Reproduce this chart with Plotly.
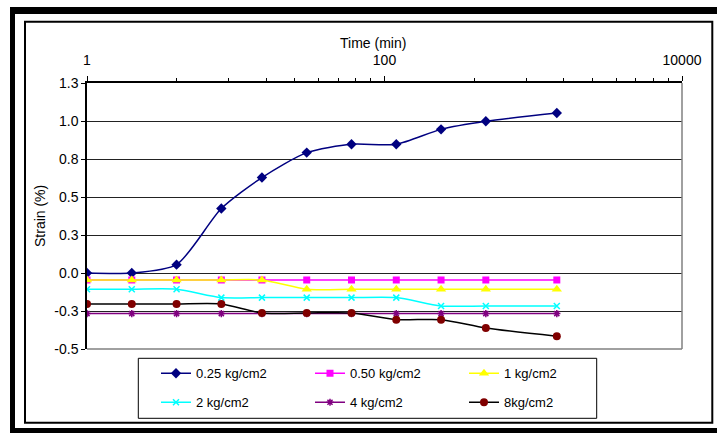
import plotly.graph_objects as go

# ---- data ----
time_min = [1, 2, 4, 8, 15, 30, 60, 120, 240, 480, 1440]
strain_025 = [0.0, 0.0, 0.055, 0.424, 0.628, 0.792, 0.847, 0.847, 0.945, 0.998, 1.053]
strain_050 = [-0.046, -0.046, -0.046, -0.046, -0.046, -0.046, -0.046, -0.046, -0.046, -0.046, -0.046]
strain_1 = [-0.046, -0.046, -0.046, -0.046, -0.046, -0.107, -0.107, -0.107, -0.107, -0.107, -0.107]
strain_2 = [-0.107, -0.107, -0.107, -0.162, -0.162, -0.162, -0.162, -0.162, -0.217, -0.217, -0.217]
strain_4 = [-0.267, -0.267, -0.267, -0.267, -0.267, -0.267, -0.267, -0.267, -0.267, -0.267, -0.267]
strain_8 = [-0.204, -0.204, -0.204, -0.204, -0.263, -0.263, -0.263, -0.307, -0.307, -0.362, -0.416]

series_names = ["0.25 kg/cm2", "0.50 kg/cm2", "1 kg/cm2", "2 kg/cm2", "4 kg/cm2", "8kg/cm2"]

x_tickvals = [1, 100, 10000]
x_ticktext = ["1", "100", "10000"]
y_tickvals = [-0.5, -0.25, 0.0, 0.25, 0.5, 0.75, 1.0, 1.25]
y_ticktext = ["-0.5", "-0.3", "0.0", "0.3", "0.5", "0.8", "1.0", "1.3"]

FONT = "Liberation Sans, Arial, sans-serif"
W, H = 717, 433
ML, MR, MT, MB = 87, 35, 83, 84
PW, PH = W - ML - MR, H - MT - MB


def px(x):
    return (x - ML) / PW


def py(y):
    return (H - MB - y) / PH


styles = [
    dict(color="#000080", lcolor="#000080", symbol="diamond", size=8, mline=None),
    dict(color="#FF00FF", lcolor="#FF00FF", symbol="square", size=7, mline=None),
    dict(color="#FFFF00", lcolor="#FFFF00", symbol="triangle-up", size=9, mline=None),
    dict(color="#00FFFF", lcolor="#00FFFF", symbol="x-thin", size=6, mline=dict(color="#00FFFF", width=1.5)),
    dict(color="#800080", lcolor="#800080", symbol="asterisk", size=6, mline=dict(color="#800080", width=1.5)),
    dict(color="#800000", lcolor="#000000", symbol="circle", size=8, mline=None),
]
values = [strain_025, strain_050, strain_1, strain_2, strain_4, strain_8]
legends = ["legend", "legend", "legend", "legend2", "legend2", "legend2"]

fig = go.Figure()
for name, vals, st, lg in zip(series_names, values, styles, legends):
    marker = dict(symbol=st["symbol"], size=st["size"], color=st["color"])
    marker["line"] = st["mline"] if st["mline"] else dict(width=0)
    fig.add_trace(go.Scatter(
        x=time_min, y=vals, name=name, mode="lines+markers",
        line=dict(color=st["lcolor"], width=1.5, shape="spline", smoothing=0.7),
        marker=marker, legend=lg,
    ))

minor_vals = [k * k * m for m in (1, 100) for k in range(2, 10)]

fig.update_layout(
    width=W, height=H,
    margin=dict(l=ML, r=MR, t=MT, b=MB),
    paper_bgcolor="white", plot_bgcolor="white",
    font=dict(family=FONT, size=13, color="black"),
    xaxis=dict(
        type="log", side="top", range=[0, 4],
        tickmode="array", tickvals=x_tickvals, ticktext=x_ticktext,
        ticks="outside", ticklen=5, tickcolor="black", tickwidth=1,
        showline=True, linecolor="black", linewidth=1.5,
        showgrid=False, zeroline=False,
        ticklabelstandoff=6,
        minor=dict(tickmode="array", tickvals=minor_vals, ticks="outside", ticklen=3, tickcolor="black", showgrid=False),
        tickfont=dict(size=14),
    ),
    yaxis=dict(
        range=[-0.5, 1.25],
        tickmode="array", tickvals=y_tickvals, ticktext=y_ticktext,
        ticks="outside", ticklen=4, tickcolor="black", tickwidth=1,
        showline=True, linecolor="black", linewidth=1.5,
        showgrid=True, gridcolor="#222222", gridwidth=1,
        zeroline=False,
        tickfont=dict(size=14),
    ),
    legend=dict(
        orientation="h", x=px(156), xanchor="left", y=py(373.3), yanchor="middle",
        entrywidth=109, entrywidthmode="pixels",
        bgcolor="rgba(0,0,0,0)", borderwidth=0, font=dict(size=13),
    ),
    legend2=dict(
        orientation="h", x=px(156), xanchor="left", y=py(402.3), yanchor="middle",
        entrywidth=109, entrywidthmode="pixels",
        bgcolor="rgba(0,0,0,0)", borderwidth=0, font=dict(size=13),
    ),
    showlegend=True,
)

fig.add_annotation(text="Time (min)", x=px(373), y=py(43), xref="paper", yref="paper",
                   showarrow=False, xanchor="center", yanchor="middle", font=dict(size=14))
fig.add_annotation(text="Strain (%)", x=px(40), y=py(216), xref="paper", yref="paper",
                   showarrow=False, textangle=-90, xanchor="center", yanchor="middle", font=dict(size=14))

shapes = [
    dict(type="line", x0=0, x1=1, y0=0, y1=0, line=dict(color="#808080", width=1.5)),
    dict(type="line", x0=1, x1=1, y0=0, y1=1, line=dict(color="#808080", width=1.5)),
    dict(type="rect", x0=px(138.3), x1=px(596.7), y0=py(418.3), y1=py(358.3), line=dict(color="black", width=1)),
    dict(type="rect", x0=px(25), x1=px(712.3), y0=py(422.8), y1=py(21.7), line=dict(color="black", width=2)),
    dict(type="rect", x0=px(10), x1=px(15), y0=py(433), y1=py(7), fillcolor="black", line=dict(width=0)),
    dict(type="rect", x0=px(10), x1=px(717), y0=py(14), y1=py(7), fillcolor="black", line=dict(width=0)),
    dict(type="rect", x0=px(10), x1=px(717), y0=py(433), y1=py(428), fillcolor="black", line=dict(width=0)),
]
for s in shapes:
    s.update(xref="paper", yref="paper", layer="above")
    fig.add_shape(**s)

fig.write_html("out.html", config={"displayModeBar": False},
               post_script="document.body.style.margin='0';")
